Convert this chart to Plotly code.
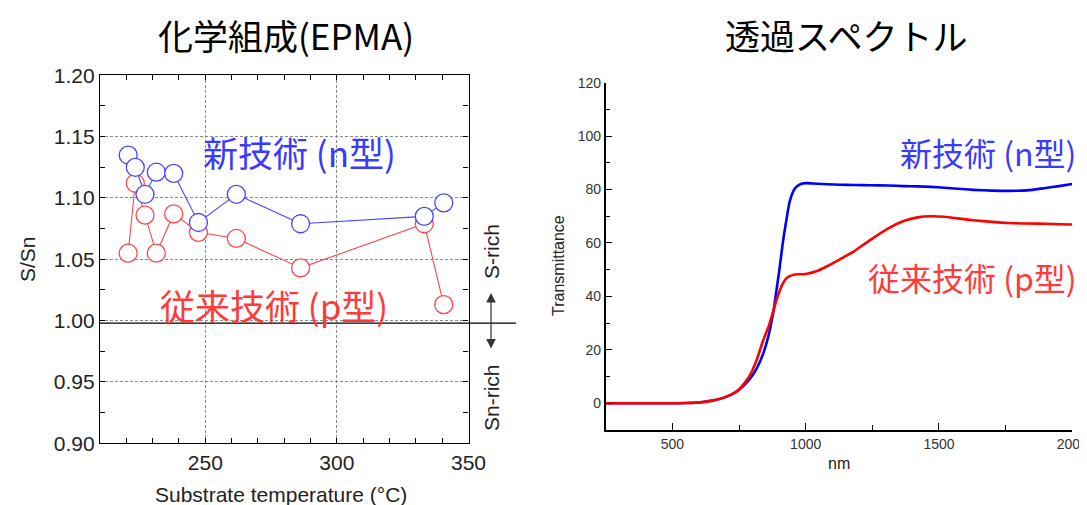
import plotly.graph_objects as go

# ---------------- Left panel data (EPMA composition) ----------------
temperature_c = [220.7, 223.4, 227.1, 231.4, 238.0, 247.4, 261.8, 286.2, 333.2, 340.6]
s_sn_new_n = [1.135, 1.125, 1.103, 1.121, 1.120, 1.080, 1.103, 1.079, 1.085, 1.096]
s_sn_conv_p = [1.055, 1.112, 1.086, 1.055, 1.087, 1.072, 1.067, 1.043, 1.079, 1.013]
boundary_s_sn = 0.998

# ---------------- Right panel data (transmittance spectra) ----------------
wavelength_nm = [250, 300, 400, 500, 550, 600, 650, 700, 750, 790, 815, 840, 860, 880,
                 890, 900, 915, 930, 940, 960, 980, 1000, 1040, 1080, 1130, 1180, 1240,
                 1310, 1370, 1420, 1470, 1520, 1570, 1630, 1700, 1760, 1830, 1900, 1950, 2000]
trans_new_n = [0, 0, 0, 0, 0.1, 0.3, 1.0, 2.3, 5.0, 9.0, 12.8, 18.4, 25.0, 35.0,
               42.0, 49.0, 60.6, 70.0, 75.5, 80.5, 82.0, 82.4, 82.2, 82.0, 81.8, 81.7, 81.6,
               81.5, 81.3, 81.2, 81.0, 80.7, 80.3, 79.9, 79.6, 79.5, 79.7, 80.6, 81.3, 82.1]
trans_conv_p = [0, 0, 0, 0, 0.1, 0.3, 1.0, 2.4, 5.2, 10.3, 15.9, 23.4, 28.5, 35.0,
                38.5, 41.5, 45.0, 47.0, 47.6, 48.2, 48.3, 48.4, 49.4, 51.3, 54.0, 56.8, 61.0,
                65.5, 68.3, 69.6, 70.0, 69.8, 69.2, 68.5, 67.9, 67.5, 67.3, 67.2, 67.0, 66.9]

W, H = 1087, 505
OFF = 8  # page body margin offsets the figure
BLUE_L, RED_L = "#4646ff", "#ff4646"
CJK = "Noto Sans CJK JP"
SANS = "Liberation Sans, Arial, sans-serif"

def px(x):
    return (x - OFF) / W

def py(y):
    return 1 - (y - OFF) / H

fig = go.Figure()

# Left panel traces (red first so blue circles sit on top)
fig.add_trace(go.Scatter(x=temperature_c, y=s_sn_conv_p, mode="lines+markers",
                         line=dict(color=RED_L, width=1.1),
                         marker=dict(symbol="circle", size=18, color="white",
                                     line=dict(color=RED_L, width=1.3)),
                         xaxis="x", yaxis="y", showlegend=False))
fig.add_trace(go.Scatter(x=temperature_c, y=s_sn_new_n, mode="lines+markers",
                         line=dict(color=BLUE_L, width=1.1),
                         marker=dict(symbol="circle", size=18, color="white",
                                     line=dict(color=BLUE_L, width=1.3)),
                         xaxis="x", yaxis="y", showlegend=False))

# Right panel traces
fig.add_trace(go.Scatter(x=wavelength_nm, y=trans_new_n, mode="lines",
                         line=dict(color="#0000ff", width=2.6, shape="spline", smoothing=0.6),
                         xaxis="x2", yaxis="y2", showlegend=False))
fig.add_trace(go.Scatter(x=wavelength_nm, y=trans_conv_p, mode="lines",
                         line=dict(color="#ff0000", width=2.6, shape="spline", smoothing=0.6),
                         xaxis="x2", yaxis="y2", showlegend=False))

left_dom_x = [px(100), px(468.5)]
left_dom_y = [py(443.3), py(75.3)]
right_dom_x = [px(605.7), px(1072.3)]
right_dom_y = [py(430), py(82.7)]

grid_common = dict(showgrid=True, gridcolor="#8a8a8a", gridwidth=1, griddash="3px,2px")

fig.update_layout(
    width=W, height=H, autosize=False,
    margin=dict(l=0, r=0, t=0, b=0, pad=0, autoexpand=False),
    paper_bgcolor="white", plot_bgcolor="white",
    xaxis=dict(domain=left_dom_x, range=[210, 350], anchor="y", automargin=False,
               tick0=250, dtick=50, ticks="inside", ticklen=5, tickcolor="black",
               minor=dict(dtick=10, ticks="inside", ticklen=5, tickcolor="black", showgrid=False),
               showline=True, linecolor="black", linewidth=1.2, mirror="allticks",
               tickfont=dict(family=SANS, size=21, color="#222"),
               zeroline=False, **grid_common),
    yaxis=dict(domain=left_dom_y, range=[0.90, 1.20], anchor="x", automargin=False,
               tick0=0.90, dtick=0.05, tickformat=".2f", ticks="inside", ticklen=5,
               tickcolor="black",
               minor=dict(dtick=0.025, ticks="inside", ticklen=5, tickcolor="black", showgrid=False),
               showline=True, linecolor="black", linewidth=1.2, mirror="allticks",
               tickfont=dict(family=SANS, size=21, color="#222"),
               zeroline=False, **grid_common),
    xaxis2=dict(domain=right_dom_x, range=[250, 2000], anchor="y2", automargin=False,
                tick0=500, dtick=500, ticks="inside", ticklen=7, tickcolor="black",
                minor=dict(dtick=250, ticks="inside", ticklen=5, tickcolor="black"),
                showline=True, linecolor="black", linewidth=1.5, showgrid=False,
                zeroline=False, tickfont=dict(family=SANS, size=14, color="#333")),
    yaxis2=dict(domain=right_dom_y, range=[-10, 120], anchor="x2", automargin=False,
                tick0=0, dtick=20, ticks="inside", ticklen=7, tickcolor="black",
                minor=dict(dtick=10, ticks="inside", ticklen=5, tickcolor="black"),
                showline=True, linecolor="black", linewidth=1.5, showgrid=False,
                zeroline=False, tickfont=dict(family=SANS, size=14, color="#333")),
)

# boundary line S/Sn = 1 (extends past right axis)
fig.add_shape(type="line", xref="paper", yref="y", x0=px(100), x1=px(516),
              y0=boundary_s_sn, y1=boundary_s_sn, line=dict(color="black", width=1.2))

ann = []
def text(t, x, y, size, color="black", family=CJK, angle=0, xanchor="center"):
    ann.append(dict(text=t, x=px(x), y=py(y), xref="paper", yref="paper",
                    showarrow=False, xanchor=xanchor, yanchor="middle",
                    textangle=angle, font=dict(family=family, size=size, color=color)))

# titles
text("化学組成(EPMA)", 286, 34, 35)
text("透過スペクトル", 846, 34, 35)
# axis titles
text("S/Sn", 27, 259, 21, "#222", SANS, -90)
text("Substrate temperature (°C)", 281, 494, 21, "#222", SANS)
text("Transmittance", 558, 266, 16, "#222", SANS, -90)
text("nm", 839, 463, 16, "#222", SANS)
# series labels
text("新技術 (n型)", 299, 151, 35, "#3a3aff")
text("従来技術 (p型)", 274, 304, 35, "#ff3a3a")
text("新技術 (n型)", 988, 152, 32, "#3a3aff")
text("従来技術 (p型)", 972, 277, 32, "#ff3a3a")
# rich labels
text("S-rich", 491, 252, 21, "#222", SANS, -90)
text("Sn-rich", 491, 398, 21, "#222", SANS, -90)

for a in ann:
    fig.add_annotation(**a)

# double-headed arrow
fig.add_annotation(x=px(491), y=py(293), xref="paper", yref="paper",
                   ax=0, ay=57, showarrow=True, text="",
                   arrowside="end+start", arrowhead=2, arrowsize=1.6,
                   arrowwidth=1.2, arrowcolor="#333")

fig.write_html("out.html")
